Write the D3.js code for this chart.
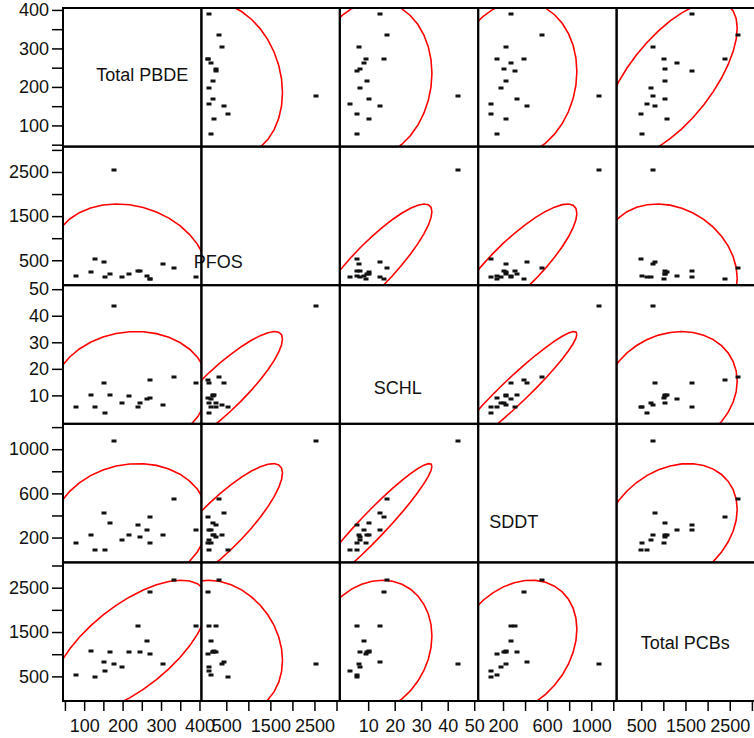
<!DOCTYPE html>
<html>
<head>
<meta charset="utf-8">
<script src="https://cdn.jsdelivr.net/npm/d3@7"></script>
<style>
  body { margin: 0; background: #fff; }
  svg { display: block; font-family: "Liberation Sans", Arial, sans-serif; }
</style>
</head>
<body>
<script>
// Scatterplot matrix with 95% density ellipses

const varNames = ['Total PBDE', 'PFOS', 'SCHL', 'SDDT', 'Total PCBs'];

// one value per sample, same order in every array
const pbde = [390, 335, 305, 272, 272, 263, 246, 241, 216, 198, 177, 168, 155, 151, 129, 117, 78];
const pfos = [114, 332, 407, 76, 76, 151, 264, 264, 189, 114, 2540, 189, 114, 452, 528, 227, 151];
const schl = [14.6, 17, 6.5, 15.9, 9, 8.5, 7.1, 5.8, 9.6, 7.1, 43.8, 10.2, 3.3, 14.6, 5.8, 10.2, 5.8];
const sddt = [268, 551, 223, 388, 148, 268, 208, 313, 223, 178, 1072, 328, 87, 418, 87, 223, 148];
const pcbs = [1645, 2680, 778, 2392, 1004, 1306, 1042, 1645, 1042, 717, 778, 1042, 627, 815, 491, 1080, 528];

const domains = [[45, 405], [-65, 3075], [-0.7, 51.5], [-25, 1230], [-55, 3070]];
const majorTicks = [[100, 200, 300, 400], [500, 1500, 2500], [10, 20, 30, 40, 50], [200, 600, 1000], [500, 1500, 2500]];
const minorTicks = [[50, 150, 250, 350], [1000, 2000, 3000], [], [400, 800, 1200], [1000, 2000, 3000]];

const cols = [pbde, pfos, schl, sddt, pcbs];

const W = 754, H = 738;
const L = 63, T = 8, R = 755, B = 701, n = varNames.length;
const cw = (R - L) / n, ch = (B - T) / n;
const fontSize = '18px';

const svg = d3.select('body').append('svg').attr('width', W).attr('height', H);

const xs = domains.map((d, i) => d3.scaleLinear().domain(d).range([L + i * cw, L + (i + 1) * cw]));
const ys = domains.map((d, i) => d3.scaleLinear().domain(d).range([T + (i + 1) * ch, T + i * ch]));

// clip paths, one per cell
const defs = svg.append('defs');
for (let r = 0; r < n; r++) {
  for (let c = 0; c < n; c++) {
    defs.append('clipPath').attr('id', `clip-${r}-${c}`)
      .append('rect')
        .attr('x', L + c * cw).attr('y', T + r * ch)
        .attr('width', cw).attr('height', ch);
  }
}

// 95% normal density ellipse from the sample mean and covariance
function ellipsePoints(a, b) {
  const m = a.length;
  const ma = d3.mean(a), mb = d3.mean(b);
  let sxx = 0, syy = 0, sxy = 0;
  for (let i = 0; i < m; i++) {
    sxx += (a[i] - ma) ** 2;
    syy += (b[i] - mb) ** 2;
    sxy += (a[i] - ma) * (b[i] - mb);
  }
  sxx /= m - 1; syy /= m - 1; sxy /= m - 1;
  const l11 = Math.sqrt(sxx), l21 = sxy / l11, l22 = Math.sqrt(syy - l21 * l21);
  const k = Math.sqrt(5.991);
  return d3.range(0, 37).map(i => {
    const t = 2 * Math.PI * i / 36;
    const u = Math.cos(t), v = Math.sin(t);
    return [ma + k * l11 * u, mb + k * (l21 * u + l22 * v)];
  });
}

// off-diagonal cells
for (let r = 0; r < n; r++) {
  for (let c = 0; c < n; c++) {
    if (r === c) continue;
    const xv = cols[c], yv = cols[r];
    const x = xs[c], y = ys[r];
    const g = svg.append('g').attr('clip-path', `url(#clip-${r}-${c})`);

    const line = d3.line().x(d => x(d[0])).y(d => y(d[1]));
    g.append('path')
      .datum(ellipsePoints(xv, yv))
      .attr('d', line)
      .attr('fill', 'none')
      .attr('stroke', '#f00')
      .attr('stroke-width', 1.6);

    g.selectAll('rect.pt')
      .data(d3.range(xv.length))
      .enter().append('rect')
        .attr('class', 'pt')
        .attr('x', i => Math.round(x(xv[i])) - 2.5)
        .attr('y', i => Math.round(y(yv[i])) - 1.5)
        .attr('width', 5)
        .attr('height', 3)
        .attr('fill', '#111');
  }
}

// diagonal labels (anchor as fraction of cell: left, baseline)
const labelPos = [[0.24, 0.529], [-0.056, 0.876], [0.246, 0.783], [0.08, 0.75], [0.175, 0.625]];
varNames.forEach((name, i) => {
  svg.append('text')
    .attr('x', L + i * cw + labelPos[i][0] * cw)
    .attr('y', T + i * ch + labelPos[i][1] * ch)
    .attr('font-size', fontSize)
    .attr('fill', '#111')
    .text(name);
});

// cell borders
for (let r = 0; r < n; r++) {
  for (let c = 0; c < n; c++) {
    svg.append('rect')
      .attr('x', L + c * cw).attr('y', T + r * ch)
      .attr('width', cw).attr('height', ch)
      .attr('fill', 'none')
      .attr('stroke', '#000')
      .attr('stroke-width', 2);
  }
}

// axes
function styleAxis(sel) {
  sel.select('.domain').remove();
  sel.selectAll('line').attr('stroke', '#000').attr('stroke-width', 1.5);
  sel.selectAll('text').attr('font-size', fontSize).attr('fill', '#111')
    .attr('font-family', '"Liberation Sans", Arial, sans-serif');
}

for (let i = 0; i < n; i++) {
  const gl = svg.append('g').attr('transform', `translate(${L},0)`);
  gl.call(d3.axisLeft(ys[i]).tickValues(majorTicks[i]).tickSize(11).tickPadding(3).tickFormat(d3.format('d')));
  styleAxis(gl);
  const glm = svg.append('g').attr('transform', `translate(${L},0)`);
  glm.call(d3.axisLeft(ys[i]).tickValues(minorTicks[i]).tickSize(11).tickFormat(''));
  styleAxis(glm);

  const gb = svg.append('g').attr('transform', `translate(0,${B})`);
  gb.call(d3.axisBottom(xs[i]).tickValues(majorTicks[i]).tickSize(10).tickPadding(8).tickFormat(d3.format('d')));
  styleAxis(gb);
  const gbm = svg.append('g').attr('transform', `translate(0,${B})`);
  gbm.call(d3.axisBottom(xs[i]).tickValues(minorTicks[i]).tickSize(10).tickFormat(''));
  styleAxis(gbm);
}
</script>
</body>
</html>
